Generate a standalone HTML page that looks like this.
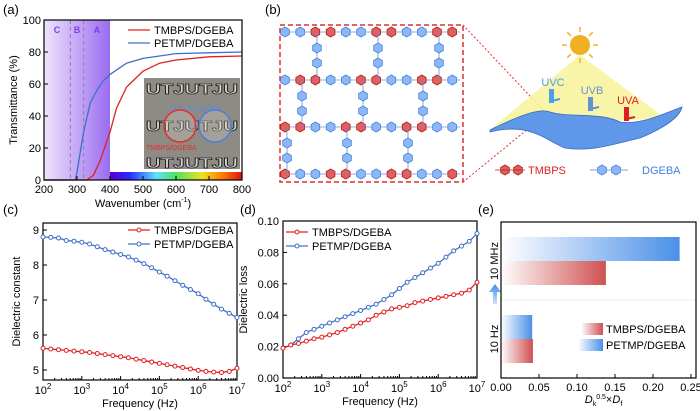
<!DOCTYPE html>
<html><head><meta charset="utf-8"><style>
html,body{margin:0;padding:0;background:#fff}
svg{display:block;font-family:"Liberation Sans",Arial,sans-serif}
</style></head><body>
<svg id="fig" width="700" height="411" viewBox="0 0 700 411" xmlns="http://www.w3.org/2000/svg">
<defs>
<linearGradient id="uvg" x1="0" x2="1"><stop offset="0" stop-color="#efe4fb"/><stop offset="1" stop-color="#9a6cf0"/></linearGradient>
<linearGradient id="spec" x1="0" x2="1"><stop offset="0" stop-color="#5a00d0"/><stop offset="0.15" stop-color="#2a2aff"/><stop offset="0.35" stop-color="#60e0ff"/><stop offset="0.5" stop-color="#50e060"/><stop offset="0.7" stop-color="#f0e020"/><stop offset="0.85" stop-color="#ff7a00"/><stop offset="1" stop-color="#e01010"/></linearGradient>
<linearGradient id="gb" x1="0" x2="1"><stop offset="0" stop-color="#fff"/><stop offset="1" stop-color="#4a90e8"/></linearGradient>
<linearGradient id="gr" x1="0" x2="1"><stop offset="0" stop-color="#fff"/><stop offset="1" stop-color="#d05050"/></linearGradient>
<linearGradient id="arr" x1="0" y1="1" x2="0" y2="0"><stop offset="0" stop-color="#cfe3fb"/><stop offset="1" stop-color="#3d8ae6"/></linearGradient>
</defs>
<g id="pa"></g>
<g id="pb"></g>
<g id="pc"></g>
<g id="pd"></g>
<g id="pe"></g>
</svg>
<script>
// ---- Panel (a) data ----
const aTmbpsX=[200,330,350,370,390,400,420,450,500,550,600,700,800];
const aTmbpsY=[0,0,3,12,24,30,45,58,68,73,75,77,77.5];
const aPetmpX=[200,295,300,320,340,360,380,400,450,500,600,700,800];
const aPetmpY=[0,0,5,30,48,56,62,66,73,76,79,79.5,80];
const aXTicks=[200,300,400,500,600,700,800];
const aYTicks=[0,20,40,60,80,100];
// ---- Panel (c) data ----
const logF=[2,2.2,2.4,2.6,2.8,3,3.2,3.4,3.6,3.8,4,4.2,4.4,4.6,4.8,5,5.2,5.4,5.6,5.8,6,6.2,6.4,6.6,6.8,7];
const cPetmp=[8.8,8.79,8.77,8.7,8.68,8.65,8.6,8.52,8.44,8.37,8.3,8.23,8.14,8.04,7.92,7.8,7.68,7.55,7.42,7.3,7.18,7.02,6.88,6.74,6.62,6.5];
const cTmbps=[5.62,5.6,5.58,5.56,5.54,5.52,5.5,5.47,5.44,5.41,5.38,5.35,5.31,5.27,5.23,5.19,5.15,5.11,5.07,5.03,4.99,4.96,4.94,4.93,4.96,5.05];
const cYTicks=[5,6,7,8,9];
// ---- Panel (d) data ----
const dPetmp=[0.019,0.021,0.025,0.029,0.031,0.033,0.035,0.037,0.039,0.041,0.043,0.045,0.047,0.05,0.053,0.057,0.061,0.064,0.067,0.07,0.073,0.077,0.081,0.084,0.087,0.092];
const dTmbps=[0.019,0.021,0.022,0.0235,0.025,0.026,0.0275,0.029,0.031,0.033,0.035,0.037,0.04,0.042,0.044,0.045,0.046,0.048,0.049,0.05,0.051,0.052,0.053,0.054,0.056,0.061];
const dYTicks=[0,0.02,0.04,0.06,0.08,0.10];
const fExp=[2,3,4,5,6,7];
// ---- Panel (e) data ----
const eGroups=["10 MHz","10 Hz"];
const ePetmp=[0.235,0.041];
const eTmbps=[0.138,0.042];
const eXTicks=[0,0.05,0.10,0.15,0.20,0.25];

const NS="http://www.w3.org/2000/svg";
function mk(parent,tag,attrs,text){const e=document.createElementNS(NS,tag);for(const k in attrs)e.setAttribute(k,attrs[k]);if(text!==undefined)e.textContent=text;parent.appendChild(e);return e;}
const RED="#e02020",BLUE="#3f70c8";

function axesFrame(g,x0,x1,y0,y1){
  const r=mk(g,'rect',{x:x0,y:y0,width:x1-x0,height:y1-y0,fill:'none',stroke:'#000','stroke-width':1.2});
  
  
}
function label(g,x,y,t,name,opts){
  const e=mk(g,'text',Object.assign({x:x,y:y,'font-size':11,'text-anchor':'middle',fill:'#000'},opts||{}),t);
  
  
  return e;
}
function line(g,pts,color,name,w){
  const p=mk(g,'polyline',{points:pts.map(p=>p.join(',')).join(' '),fill:'none',stroke:color,'stroke-width':w||1.3});
  
  
}
function markers(g,pts,color,name){
  pts.forEach(p=>{const c=mk(g,'circle',{cx:p[0],cy:p[1],r:2,fill:'#fff',stroke:color,'stroke-width':1});
  
  });
}
function logXAxis(g,sx,yb){
  fExp.forEach(e=>{const x=sx(e);mk(g,'line',{x1:x,x2:x,y1:yb,y2:yb-4,stroke:'#000'});
    if(e<7){for(let m=2;m<10;m++){const xm=sx(e+Math.log10(m));mk(g,'line',{x1:xm,x2:xm,y1:yb,y2:yb-2,stroke:'#000'});}}
    const t=label(g,x,yb+14,'10','x-tick-label');mk(t,'tspan',{dy:-5,'font-size':8},String(e));});
  label(g,(sx(2)+sx(7))/2,yb+27,'Frequency (Hz)','x-axis-title');
}
function legend(g,x,y,color,text){
  const l=mk(g,'line',{x1:x,x2:x+22,y1:y,y2:y,stroke:color,'stroke-width':1.3});
  
  
  mk(g,'circle',{cx:x+11,cy:y,r:2,fill:'#fff',stroke:color});
  label(g,x+26,y+4,text,'legend-entry',{'text-anchor':'start'});
}

// ===== Panel (a) =====
(function(){
  const g=document.getElementById('pa');
  const X0=44,X1=242,Y0=20,Y1=180;
  const sx=v=>X0+(v-200)/600*(X1-X0), sy=v=>Y1-v/100*(Y1-Y0);
  label(g,3,14,'(a)','panel-label',{'text-anchor':'start','font-size':13});
  mk(g,'rect',{x:X0,y:Y0,width:sx(400)-X0,height:Y1-Y0,fill:'url(#uvg)'});
  [280,320].forEach(v=>mk(g,'line',{x1:sx(v),x2:sx(v),y1:Y0,y2:Y1,stroke:'#9080b0','stroke-dasharray':'4,3'}));
  label(g,57,33,'C','region-c',{fill:'#7b3ff0','font-size':9,'font-weight':'bold'});
  label(g,77,33,'B','region-b',{fill:'#7b3ff0','font-size':9,'font-weight':'bold'});
  label(g,97,33,'A','region-a',{fill:'#7b3ff0','font-size':9,'font-weight':'bold'});
  mk(g,'rect',{x:sx(400),y:172,width:X1-sx(400),height:8,fill:'url(#spec)'});
  const ph=mk(g,'g',{});
  mk(ph,'rect',{x:144,y:78,width:96,height:91,fill:'#8e8a84'});
  [[94,'UTJUTJU'],[131,'UTJUTJU'],[168,'UTJUTJU']].forEach(r=>mk(ph,'text',{x:146,y:r[0],'font-size':15,'font-weight':'bold',fill:'#d8d6d0',stroke:'#222','stroke-width':0.8,textLength:92,lengthAdjust:'spacingAndGlyphs'},r[1]));
  mk(ph,'text',{x:170,y:111,'font-size':7,fill:'#5a8ee0'},'PETMP/DGEBA');
  mk(ph,'circle',{cx:180,cy:126,r:16,fill:'rgba(220,215,205,0.3)',stroke:'#e03030','stroke-width':1.5});
  mk(ph,'circle',{cx:215,cy:126,r:16,fill:'rgba(220,215,205,0.3)',stroke:'#4a80e0','stroke-width':1.5});
  mk(ph,'text',{x:146,y:150,'font-size':7,fill:'#e03030'},'TMBPS/DGEBA');
  line(g,aTmbpsX.map((v,i)=>[sx(v),sy(aTmbpsY[i])]),RED,'tmbps-transmittance-line');
  line(g,aPetmpX.map((v,i)=>[sx(v),sy(aPetmpY[i])]),BLUE,'petmp-transmittance-line');
  axesFrame(g,X0,X1,Y0,Y1);
  aXTicks.forEach(v=>{mk(g,'line',{x1:sx(v),x2:sx(v),y1:Y1,y2:Y1-4,stroke:'#000'});label(g,sx(v),Y1+13,String(v),'x-tick-label');});
  aYTicks.forEach(v=>{mk(g,'line',{x1:X0,x2:X0+4,y1:sy(v),y2:sy(v),stroke:'#000'});label(g,X0-3,sy(v)+4,String(v),'y-tick-label',{'text-anchor':'end'});});
  const t=label(g,(X0+X1)/2,207,'Wavenumber (cm','x-axis-title');mk(t,'tspan',{dy:-5,'font-size':7},'-1');mk(t,'tspan',{dy:5},')');
  label(g,17,(Y0+Y1)/2,'Transmittance (%)','y-axis-title',{transform:`rotate(-90 17 ${(Y0+Y1)/2})`});
  [[RED,'TMBPS/DGEBA',30],[BLUE,'PETMP/DGEBA',43]].forEach(l=>{mk(g,'line',{x1:128,x2:150,y1:l[2],y2:l[2],stroke:l[0],'stroke-width':1.3});label(g,154,l[2]+4,l[1],'legend-entry',{'text-anchor':'start'});});
})();

// ===== Panel (b) =====
(function(){
  const g=document.getElementById('pb');
  label(g,265,14,'(b)','panel-label',{'text-anchor':'start','font-size':13});
  const box=mk(g,'rect',{x:280,y:25,width:183,height:157,fill:'none',stroke:'#e03030','stroke-width':1.5,'stroke-dasharray':'5,3'});
  
  function hex(x,y,c){const r=5;let p=[];for(let i=0;i<6;i++){const a=Math.PI/3*i+Math.PI/6;p.push([x+r*Math.cos(a),y+r*Math.sin(a)]);}
    mk(g,'polygon',{points:p.map(q=>q.join(',')).join(' '),fill:c==='r'?'#e06060':'#8ab8f8',stroke:c==='r'?'#b02020':'#4a80d8','stroke-width':0.8});}
  const rows=[[32,'bbrrbbrrbbrr'],[80,'brrbbrrbbrrb'],[127,'rrbbrrbbrrbb'],[174,'rbbrrbbrrbbr']];
  rows.forEach(r=>{mk(g,'line',{x1:283,x2:460,y1:r[0],y2:r[0],stroke:'#7090d0','stroke-width':0.8});
    for(let i=0;i<12;i++)hex(285+i*15.2,r[0],r[1][i]);});
  const cols=[[[317,378,439],32,80],[[302,363,423],80,127],[[287,347,408],127,174]];
  cols.forEach(c=>c[0].forEach(x=>{mk(g,'line',{x1:x,x2:x,y1:c[1],y2:c[2],stroke:'#7090d0','stroke-width':0.8});hex(x,c[1]+16,'b');hex(x,c[1]+31,'b');}));
  mk(g,'line',{x1:463,y1:25,x2:545,y2:112,stroke:'#e03030','stroke-dasharray':'2,2'});
  mk(g,'line',{x1:463,y1:182,x2:545,y2:115,stroke:'#e03030','stroke-dasharray':'2,2'});
  const cone=mk(g,'polygon',{points:'580,55 492,128 665,118',fill:'#f7f39a',opacity:0.85});
  
  const film=mk(g,'path',{d:'M490,130 C520,115 540,108 550,112 C570,118 600,112 620,122 C640,125 660,115 682,107 C680,118 660,130 640,138 C610,145 590,152 565,148 C545,140 530,122 490,132 Z',fill:'#5f98e8',stroke:'#3a6cc0','stroke-width':0.8});
  
  const sun=mk(g,'circle',{cx:580,cy:45,r:10,fill:'#f0b020'});
  for(let i=0;i<8;i++){const a=Math.PI/4*i;mk(g,'line',{x1:580+13*Math.cos(a),y1:45+13*Math.sin(a),x2:580+18*Math.cos(a),y2:45+18*Math.sin(a),stroke:'#f0b020','stroke-width':1.5});}
  // [x, textY, label, color]
  [[553,86,'UVC','#4aa0e8'],[592,94,'UVB','#6890d0'],[628,104,'UVA','#e02020']].forEach(u=>{
    label(g,u[0],u[1],u[2],'uv-label',{fill:u[3],'font-size':11});
    mk(g,'rect',{x:u[0]-4,y:u[1]+3,width:5,height:14,fill:u[3]});
    mk(g,'line',{x1:u[0]-2,y1:u[1]+15,x2:u[0]+7,y2:u[1]+13,stroke:u[3],'stroke-width':2});});
  hex(505,170,'r');hex(518,170,'r');mk(g,'line',{x1:495,x2:525,y1:170,y2:170,stroke:'#b02020','stroke-width':0.8});
  label(g,528,174,'TMBPS','legend-tmbps',{'text-anchor':'start',fill:'#e02020'});
  mk(g,'line',{x1:590,x2:628,y1:170,y2:170,stroke:'#4a80d8','stroke-width':0.8});hex(602,170,'b');hex(616,170,'b');
  label(g,642,174,'DGEBA','legend-dgeba',{'text-anchor':'start',fill:'#3f80e0'});
})();

// ===== Panel (c) =====
(function(){
  const g=document.getElementById('pc');
  const X0=43,X1=237,Y0=223,Y1=380;
  const sx=v=>X0+(v-2)/5*(X1-X0), sy=v=>370-(v-5)*35;
  label(g,3,214,'(c)','panel-label',{'text-anchor':'start','font-size':13});
  axesFrame(g,X0,X1,Y0,Y1);
  cYTicks.forEach(v=>{mk(g,'line',{x1:X0,x2:X0+4,y1:sy(v),y2:sy(v),stroke:'#000'});label(g,X0-4,sy(v)+4,String(v),'y-tick-label',{'text-anchor':'end'});});
  logXAxis(g,sx,Y1);
  label(g,20,(Y0+Y1)/2,'Dielectric constant','y-axis-title',{transform:`rotate(-90 20 ${(Y0+Y1)/2})`});
  const pb=logF.map((f,i)=>[sx(f),sy(cPetmp[i])]), pr=logF.map((f,i)=>[sx(f),sy(cTmbps[i])]);
  line(g,pb,BLUE,'petmp-constant-line');markers(g,pb,BLUE,'petmp-constant-point');
  line(g,pr,RED,'tmbps-constant-line');markers(g,pr,RED,'tmbps-constant-point');
  legend(g,128,230,RED,'TMBPS/DGEBA');legend(g,128,244,BLUE,'PETMP/DGEBA');
})();

// ===== Panel (d) =====
(function(){
  const g=document.getElementById('pd');
  const X0=283,X1=477,Y0=221,Y1=378;
  const sx=v=>X0+(v-2)/5*(X1-X0), sy=v=>Y1-v/0.1*(Y1-Y0);
  label(g,240,214,'(d)','panel-label',{'text-anchor':'start','font-size':13});
  axesFrame(g,X0,X1,Y0,Y1);
  dYTicks.forEach(v=>{mk(g,'line',{x1:X0,x2:X0+4,y1:sy(v),y2:sy(v),stroke:'#000'});label(g,X0-4,sy(v)+4,v.toFixed(2),'y-tick-label',{'text-anchor':'end'});});
  logXAxis(g,sx,Y1);
  label(g,247,(Y0+Y1)/2,'Dielectric loss','y-axis-title',{transform:`rotate(-90 247 ${(Y0+Y1)/2})`});
  const pb=logF.map((f,i)=>[sx(f),sy(dPetmp[i])]), pr=logF.map((f,i)=>[sx(f),sy(dTmbps[i])]);
  line(g,pb,BLUE,'petmp-loss-line');markers(g,pb,BLUE,'petmp-loss-point');
  line(g,pr,RED,'tmbps-loss-line');markers(g,pr,RED,'tmbps-loss-point');
  legend(g,286,232,RED,'TMBPS/DGEBA');legend(g,286,246,BLUE,'PETMP/DGEBA');
})();

// ===== Panel (e) =====
(function(){
  const g=document.getElementById('pe');
  const X0=501,X1=696,Y0=222,Y1=378;
  const sx=v=>X0+v/0.25*190;
  label(g,478,214,'(e)','panel-label',{'text-anchor':'start','font-size':13});
  const bandTop=[237,315], bh=24;
  eGroups.forEach((grp,i)=>{
    const b=mk(g,'rect',{x:X0,y:bandTop[i],width:sx(ePetmp[i])-X0,height:bh,fill:'url(#gb)'});
    
    const r=mk(g,'rect',{x:X0,y:bandTop[i]+bh,width:sx(eTmbps[i])-X0,height:bh,fill:'url(#gr)'});
    
    const cy=bandTop[i]+bh;
    label(g,494,cy+4,grp,'y-category-label',{transform:`rotate(-90 494 ${cy})`});
  });
  mk(g,'line',{x1:X0,x2:X1,y1:300,y2:300,stroke:'#eee'});
  const ar=mk(g,'polygon',{points:'493,304 493,292 489,292 495,284 501,292 497,292 497,304',fill:'url(#arr)'});
  
  axesFrame(g,X0,X1,Y0,Y1);
  eXTicks.forEach(v=>{mk(g,'line',{x1:sx(v),x2:sx(v),y1:Y1,y2:Y1-4,stroke:'#000'});label(g,sx(v),Y1+13,v.toFixed(2),'x-tick-label');});
  const t=label(g,(X0+X1)/2+5,403,'','x-axis-title');
  mk(t,'tspan',{'font-style':'italic'},'D');mk(t,'tspan',{dy:3,'font-size':7},'k');mk(t,'tspan',{dy:-7,'font-size':7},'0.5');mk(t,'tspan',{dy:4},'×');mk(t,'tspan',{'font-style':'italic'},'D');mk(t,'tspan',{dy:3,'font-size':7},'f');
  const l1=mk(g,'rect',{x:581,y:323,width:22,height:12,fill:'url(#gr)'});
  const l2=mk(g,'rect',{x:578,y:339,width:25,height:12,fill:'url(#gb)'});
  label(g,606,333,'TMBPS/DGEBA','legend-entry',{'text-anchor':'start'});
  label(g,606,349,'PETMP/DGEBA','legend-entry',{'text-anchor':'start'});
})();
</script>
</body></html>
